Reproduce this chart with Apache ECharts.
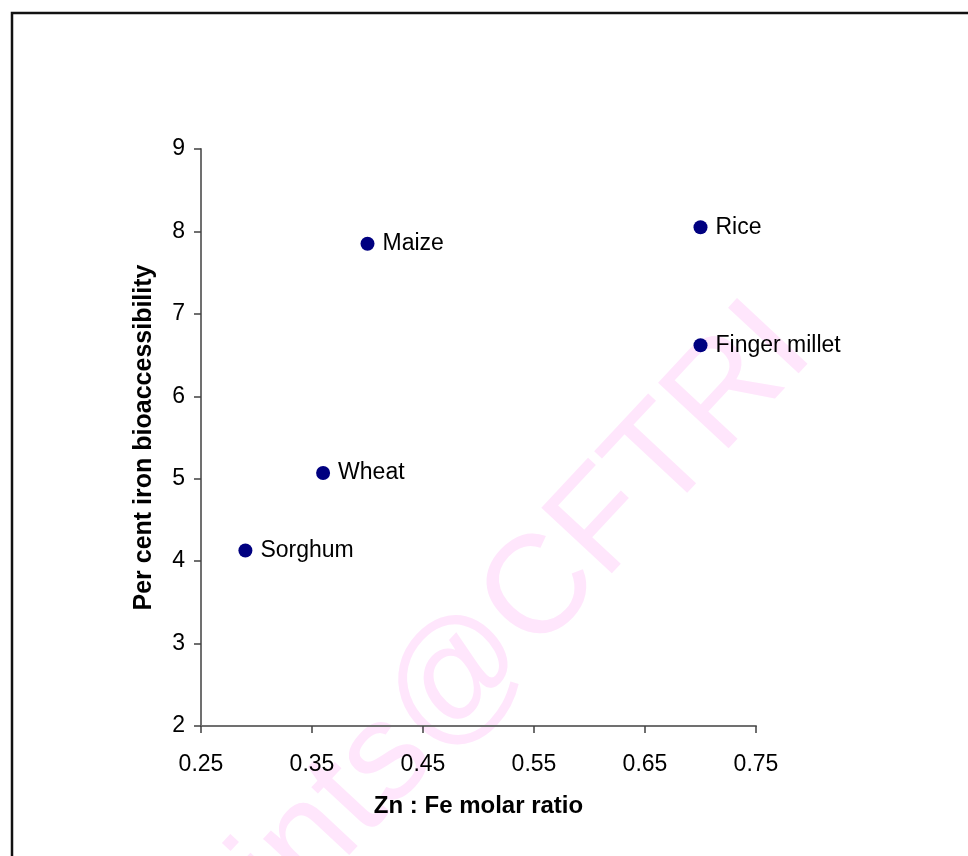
<!DOCTYPE html>
<html>
<head>
<meta charset="utf-8">
<script src="https://cdn.jsdelivr.net/npm/echarts@6/dist/echarts.min.js"></script>
<style>
html,body{margin:0;padding:0;background:#fff;}
#chart{width:968px;height:856px;}
</style>
</head>
<body>
<div id="chart"></div>
<script>
// Data
const crops = ["Sorghum", "Wheat", "Maize", "Rice", "Finger millet"];
const znFeRatio = [0.29, 0.36, 0.40, 0.70, 0.70];
const ironBioaccessibility = [4.13, 5.07, 7.85, 8.05, 6.62];
const xTicks = [0.25, 0.35, 0.45, 0.55, 0.65, 0.75];
const yTicks = [2, 3, 4, 5, 6, 7, 8, 9];
const xTitle = "Zn : Fe molar ratio";
const yTitle = "Per cent iron bioaccessibility";
const watermark = "eprints@CFTRI";

const points = crops.map((c, i) => ({ name: c, value: [znFeRatio[i], ironBioaccessibility[i]] }));

const chart = echarts.init(document.getElementById('chart'), null, { renderer: 'canvas' });
const FONT = 'Arial, "Liberation Sans", sans-serif';

chart.setOption({
  backgroundColor: '#ffffff',
  animation: false,
  textStyle: { fontFamily: FONT },
  graphic: [
    {
      type: 'text',
      z: -10,
      silent: true,
      x: 788,
      y: 328,
      rotation: 47 * Math.PI / 180,
      style: {
        text: watermark,
        fill: '#ffe6fc',
        font: '140px ' + FONT,
        textAlign: 'right',
        textVerticalAlign: 'middle'
      }
    },
    {
      type: 'rect',
      z: 100,
      silent: true,
      shape: { x: 12, y: 13, width: 1000, height: 900 },
      style: { fill: 'none', stroke: '#111', lineWidth: 2.5 }
    }
  ],
  grid: { left: 201, right: 212, top: 149, bottom: 130, containLabel: false },
  xAxis: {
    type: 'value',
    min: xTicks[0],
    max: xTicks[xTicks.length - 1],
    name: xTitle,
    nameLocation: 'middle',
    nameGap: 68,
    nameTextStyle: { fontFamily: FONT, fontSize: 24, fontWeight: 'bold', color: '#000' },
    splitLine: { show: false },
    axisLine: { show: true, onZero: false, lineStyle: { color: '#707070', width: 2 } },
    axisTick: { show: true, inside: false, length: 7, customValues: xTicks, lineStyle: { color: '#404040', width: 1.5 } },
    axisLabel: {
      customValues: xTicks,
      formatter: v => v.toFixed(2),
      fontFamily: FONT, fontSize: 23, color: '#000', margin: 27
    }
  },
  yAxis: {
    type: 'value',
    min: yTicks[0],
    max: yTicks[yTicks.length - 1],
    interval: 1,
    name: yTitle,
    nameLocation: 'middle',
    nameGap: 44,
    nameRotate: 90,
    nameTextStyle: { fontFamily: FONT, fontSize: 25, fontWeight: 'bold', color: '#000' },
    splitLine: { show: false },
    axisLine: { show: true, onZero: false, lineStyle: { color: '#707070', width: 2 } },
    axisTick: { show: true, inside: false, length: 7, lineStyle: { color: '#404040', width: 1.5 } },
    axisLabel: { fontFamily: FONT, fontSize: 23, color: '#000', margin: 16 }
  },
  series: [
    {
      type: 'scatter',
      data: points,
      symbol: 'circle',
      symbolSize: 14,
      itemStyle: { color: '#000080', opacity: 1 },
      label: {
        show: true,
        position: 'right',
        distance: 8,
        formatter: p => p.name,
        fontFamily: FONT,
        fontSize: 23,
        color: '#000'
      }
    }
  ]
});
</script>
</body>
</html>
